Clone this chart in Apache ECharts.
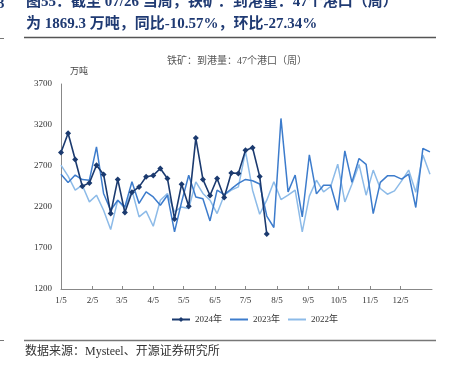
<!DOCTYPE html>
<html>
<head>
<meta charset="utf-8">
<script src="https://cdn.jsdelivr.net/npm/echarts@6/dist/echarts.min.js"></script>
<style>
  html, body { margin: 0; padding: 0; background: #fff; }
  #main { width: 452px; height: 369px; }
</style>
</head>
<body>
<div id="main"></div>
<script>
// 月份刻度（距 1/5 的天数）
let monthLabels = ['1/5','2/5','3/5','4/5','5/5','6/5','7/5','8/5','9/5','10/5','11/5','12/5'];
let monthDays = [0, 31, 60, 91, 121, 152, 182, 213, 244, 274, 305, 335];
let yTicks = [1200, 1700, 2200, 2700, 3200, 3700];

let seriesNames = ['2024年', '2023年', '2022年'];
// 万吨，按周
let v2024 = [2865, 3100, 2780, 2454, 2494, 2710, 2597, 2120, 2536, 2133,
             2381, 2445, 2568, 2585, 2670, 2548, 2055, 2478, 2210, 3040,
             2536, 2340, 2548, 2316, 2615, 2610, 2893, 2922, 2573, 1869.3];
let v2023 = [2600, 2500, 2590, 2535, 2527, 2934, 2365, 2161, 2283, 2201,
             2507, 2243, 2384, 2323, 2222, 2344, 1896, 2262, 2588, 2323,
             2300, 2030, 2405, 2350, 2420, 2487, 2536, 2520, 2480, 2090,
             1950, 3280, 2384, 2590, 2080, 2837, 2360, 2466, 2466, 2161,
             2885, 2500, 2792, 2719, 2120, 2500, 2580, 2580, 2540, 2600,
             2194, 2914, 2873];
let v2022 = [2710, 2576, 2405, 2466, 2262, 2344, 2161, 1925, 2283, 2181,
             2405, 2079, 2150, 1965, 2283, 2365, 2140, 2201, 2181, 2507,
             2365, 2283, 2120, 2344, 2405, 2445, 2880, 2405, 2112, 2283,
             2507, 2291, 2344, 2405, 1896, 2332, 2527, 2384, 2450, 2722,
             2262, 2478, 2719, 2344, 2650, 2426, 2356, 2397, 2519, 2650,
             2380, 2833, 2600];

let colors = ['#1b3a6f', '#3d7ccc', '#8dbbe8'];

function toPoints(vals){
  // 每周一个点，x 为距 1/5 的天数
  return vals.map(function(v, i){ return [i * 7, v]; });
}

let serif = '"Liberation Serif", "Noto Sans CJK SC", serif';
let noMark = { color: 'rgba(0,0,0,0)', borderWidth: 0 };

let option = {
  animation: false,
  color: colors,
  grid: { left: 61, right: 20, top: 84, bottom: 80 },
  graphic: [
    { type: 'text', left: 26, top: -5,
      style: { text: '图55：截至 07/26 当周，铁矿：到港量：47个港口（周）', fill: '#1f3a73',
               font: 'bold 15px "Liberation Serif", "Noto Sans CJK SC"' } },
    { type: 'text', left: 26, top: 17,
      style: { text: '为 1869.3 万吨，同比-10.57%，环比-27.34%', fill: '#1f3a73',
               font: 'bold 15px "Liberation Serif", "Noto Sans CJK SC"' } },
    { type: 'text', left: -3, top: -3,
      style: { text: '3', fill: '#1f3a73', font: 'bold 15px "Liberation Serif"' } },
    { type: 'line', shape: { x1: 24, y1: 37.5, x2: 436, y2: 37.5 }, style: { stroke: '#555', lineWidth: 1.5 } },
    { type: 'line', shape: { x1: 0, y1: 38.5, x2: 4, y2: 38.5 }, style: { stroke: '#777', lineWidth: 1 } },
    { type: 'text', left: 167, top: 56,
      style: { text: '铁矿：到港量：47个港口（周）', fill: '#555', font: '10px ' + serif } },
    { type: 'text', left: 70, top: 67,
      style: { text: '万吨', fill: '#444', font: '9px ' + serif } },
    { type: 'line', shape: { x1: 24, y1: 340.5, x2: 436, y2: 340.5 }, style: { stroke: '#777', lineWidth: 1.5 } },
    { type: 'line', shape: { x1: 0, y1: 340.5, x2: 4, y2: 340.5 }, style: { stroke: '#777', lineWidth: 1 } },
    { type: 'text', left: 25, top: 346,
      style: { text: '数据来源：Mysteel、开源证券研究所', fill: '#333', font: '12px ' + serif } }
  ],
  legend: {
    data: [
      { name: seriesNames[0] },
      { name: seriesNames[1], itemStyle: noMark },
      { name: seriesNames[2], itemStyle: noMark }
    ],
    left: 166,
    top: 310,
    itemWidth: 18,
    itemHeight: 6,
    itemGap: 7,
    textStyle: { fontFamily: serif, fontSize: 9, color: '#333' }
  },
  xAxis: {
    type: 'value',
    min: 0,
    max: 366,
    splitLine: { show: false },
    axisLine: { lineStyle: { color: '#888', width: 1 } },
    axisTick: { show: true, inside: true, length: 3, customValues: monthDays.slice(1),
                lineStyle: { color: '#888' } },
    axisLabel: {
      customValues: monthDays,
      formatter: function(v){ return monthLabels[monthDays.indexOf(v)]; },
      fontFamily: serif, fontSize: 9, color: '#333', margin: 7
    }
  },
  yAxis: {
    type: 'value',
    min: 1200,
    max: 3700,
    splitLine: { show: false },
    axisLine: { show: true, lineStyle: { color: '#888', width: 1 } },
    axisTick: { show: false },
    axisLabel: {
      customValues: yTicks,
      formatter: function(v){ return String(v); },
      fontFamily: serif, fontSize: 9, color: '#333', margin: 9
    }
  },
  series: [
    { name: seriesNames[0], type: 'line', data: toPoints(v2024), z: 5,
      symbol: 'diamond', symbolSize: 6, showSymbol: true,
      lineStyle: { width: 1.6, color: colors[0] }, itemStyle: { color: colors[0] } },
    { name: seriesNames[1], type: 'line', data: toPoints(v2023), z: 4,
      symbol: 'none', lineStyle: { width: 1.5, color: colors[1] } },
    { name: seriesNames[2], type: 'line', data: toPoints(v2022), z: 3,
      symbol: 'none', lineStyle: { width: 1.5, color: colors[2] } }
  ]
};

let myChart = echarts.init(document.getElementById('main'));
myChart.setOption(option);
</script>
</body>
</html>
